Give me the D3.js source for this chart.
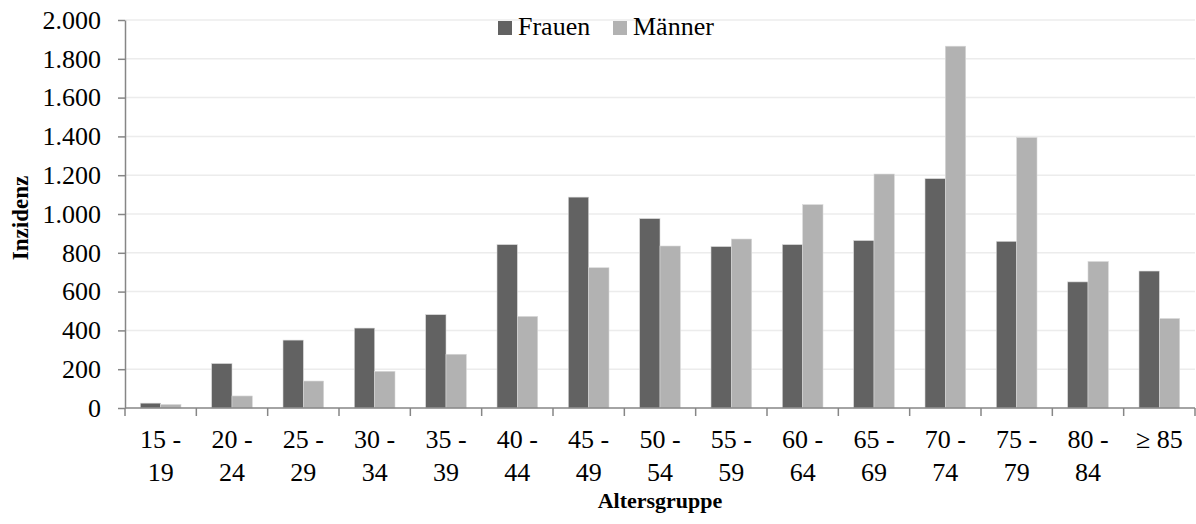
<!DOCTYPE html>
<html><head><meta charset="utf-8">
<script src="https://cdn.jsdelivr.net/npm/d3@7"></script>
<style>body{margin:0;background:#fff}svg{display:block}svg text{font-family:"Liberation Serif","Times New Roman",Times,serif !important}</style>
</head><body><svg id="c" width="1196" height="524"></svg>
<script>
const categories = ["15 -|19","20 -|24","25 -|29","30 -|34","35 -|39","40 -|44","45 -|49","50 -|54","55 -|59","60 -|64","65 -|69","70 -|74","75 -|79","80 -|84","≥ 85"];
const frauen = [25, 229, 350, 412, 481, 842, 1087, 976, 832, 842, 863, 1182, 859, 650, 706];
const maenner = [18, 62, 139, 189, 277, 472, 723, 835, 871, 1048, 1206, 1865, 1394, 755, 461];
const seriesNames = ["Frauen", "Männer"];
const yTicks = [0,200,400,600,800,1000,1200,1400,1600,1800,2000];
const colors = ["#626262", "#b2b2b2"];

const svg = d3.select("#c");
const m = {left:125, right:1195, top:20, bottom:408};
const x = d3.scaleBand().domain(categories).range([m.left, m.right]).paddingInner(0.43).paddingOuter(0.215);
const xb = d3.scaleBand().domain(categories).range([m.left, m.right]);
const xs = d3.scaleBand().domain(seriesNames).range([0, x.bandwidth()]);
const y = d3.scaleLinear().domain([0,2000]).range([m.bottom, m.top]);
const fmt = v => d3.format(",")(v).replace(/,/g, ".");

// grid
svg.append("g").selectAll("line").data(yTicks.slice(1)).join("line")
  .attr("x1", m.left).attr("x2", m.right).attr("y1", d=>y(d)).attr("y2", d=>y(d))
  .attr("stroke", "#ececec").attr("stroke-width", 1.5);

// bars
const rows = categories.map((c,i)=>({c, vals:[frauen[i], maenner[i]]}));
const g = svg.append("g").selectAll("g").data(rows).join("g").attr("transform", d=>`translate(${x(d.c)},0)`);
g.selectAll("rect").data(d=>d.vals.map((v,j)=>({v, s:seriesNames[j], j}))).join("rect")
  .attr("x", d=>xs(d.s)).attr("width", xs.bandwidth())
  .attr("y", d=>y(d.v)).attr("height", d=>y(0)-y(d.v))
  .attr("fill", d=>colors[d.j]).attr("stroke", "#d8d8d8").attr("stroke-width", 0.6);

// y axis
const ya = svg.append("g").attr("transform", `translate(${m.left},0)`)
  .call(d3.axisLeft(y).tickValues(yTicks).tickFormat(fmt).tickSize(7).tickSizeOuter(0));
ya.attr("font-family", null).attr("font-size", null);
ya.select(".domain").attr("stroke", "#868686").attr("stroke-width", 1.5);
ya.selectAll(".tick line").attr("stroke", "#868686").attr("stroke-width", 1.5);
ya.selectAll(".tick text").attr("font-size", 26).attr("fill", "#000").attr("x", -24);

// x axis
const xa = svg.append("g").attr("transform", `translate(0,${m.bottom})`);
xa.append("line").attr("x1", m.left).attr("x2", m.right).attr("stroke", "#868686").attr("stroke-width", 1.5);
xa.selectAll("line.t").data(categories.concat(["__end"])).join("line").attr("class","t")
  .attr("x1", (d,i)=> i<categories.length ? xb(d) : m.right).attr("x2", (d,i)=> i<categories.length ? xb(d) : m.right)
  .attr("y1", 0).attr("y2", 8).attr("stroke", "#868686").attr("stroke-width", 1.5);
const lbl = xa.selectAll("text.l").data(categories).join("text").attr("class","l")
  .attr("x", d=>xb(d)+xb.bandwidth()/2).attr("y", 40).attr("text-anchor", "middle")
  .attr("font-size", 26).attr("fill", "#000");
lbl.each(function(d){
  const parts = d.split("|");
  const t = d3.select(this);
  parts.forEach((p,i)=> t.append("tspan").attr("x", xb(d)+xb.bandwidth()/2).attr("dy", i===0?0:33).text(p));
});

// axis titles
svg.append("text").attr("x", 660).attr("y", 508).attr("text-anchor","middle")
  .attr("font-size", 22).attr("font-weight","bold").text("Altersgruppe");
svg.append("text").attr("transform","translate(28,218) rotate(-90)").attr("text-anchor","middle")
  .attr("font-size", 23).attr("font-weight","bold").text("Inzidenz");

// legend
const leg = svg.append("g");
const legX = [498, 613];
seriesNames.forEach((s,i)=>{
  leg.append("rect").attr("x", legX[i]).attr("y", 21).attr("width", 14).attr("height", 14).attr("fill", colors[i]);
  leg.append("text").attr("x", legX[i]+20).attr("y", 35).attr("font-size", 26).text(s);
});
</script></body></html>
